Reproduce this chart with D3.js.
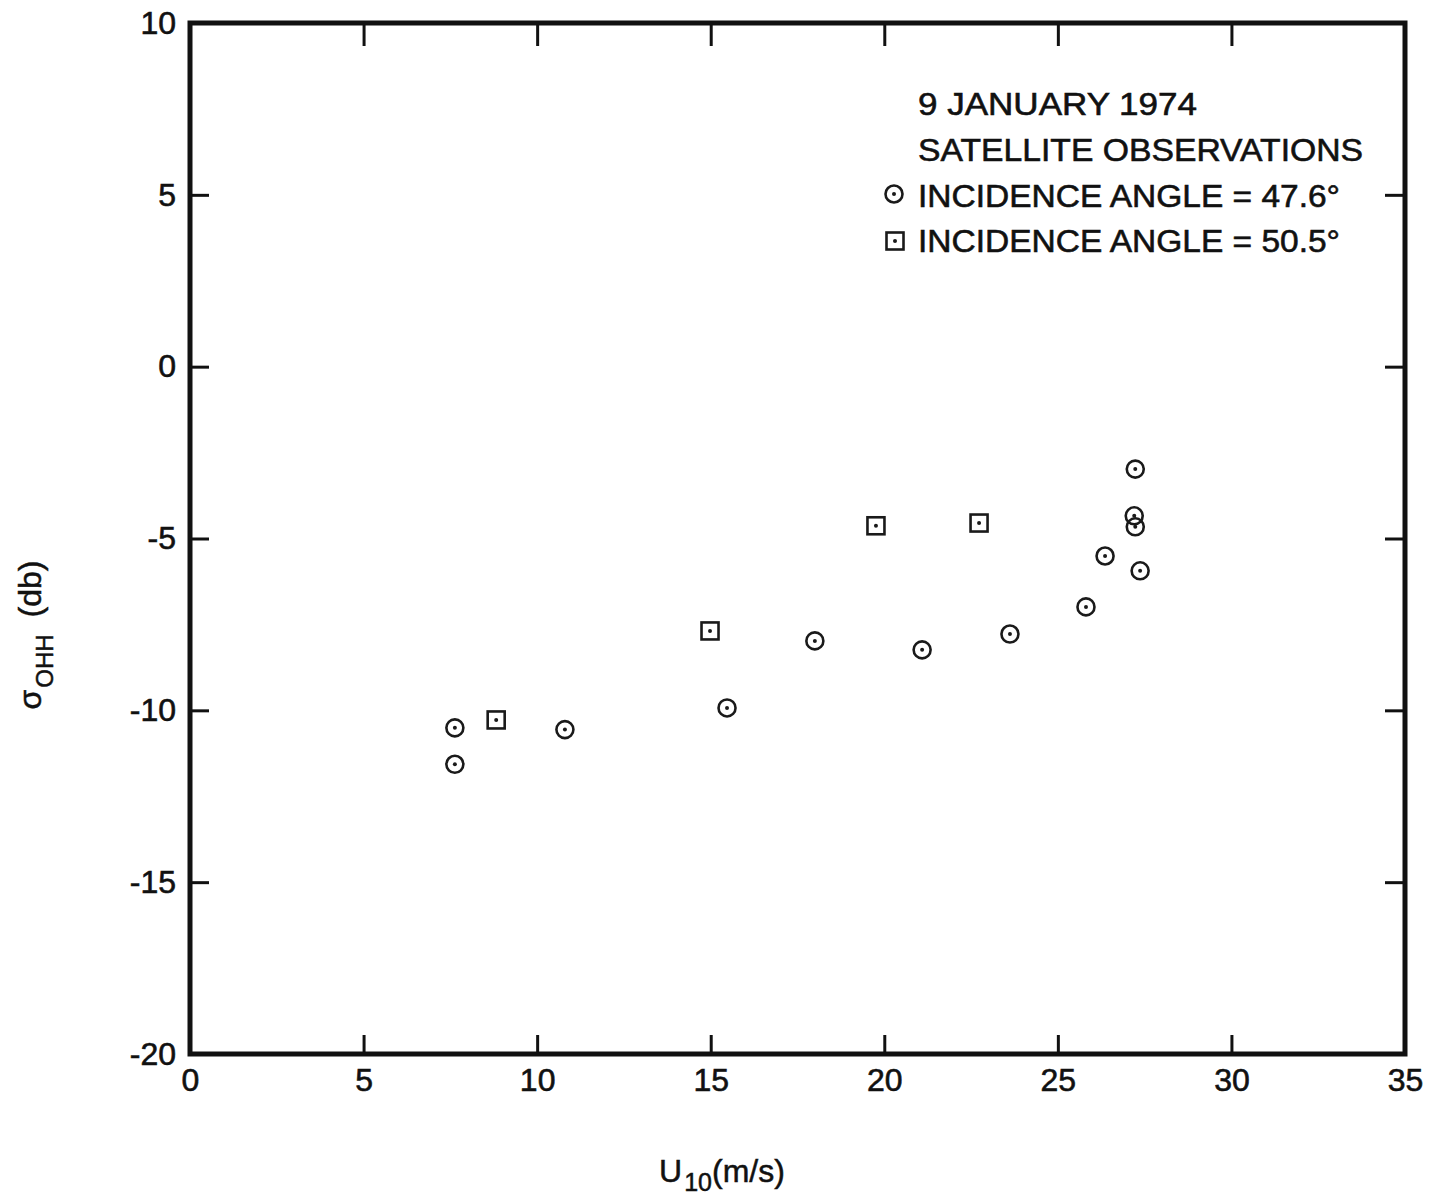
<!DOCTYPE html>
<html><head><meta charset="utf-8">
<script src="https://cdn.jsdelivr.net/npm/d3@7"></script>
<style>body{margin:0;background:#fff}svg{display:block}</style>
</head><body>
<script>
// Data
const circleU = [7.63, 7.63, 10.80, 15.47, 18.00, 21.09, 23.62, 25.81, 26.36, 27.23, 27.20, 27.23, 27.37];
const circleS = [-10.51, -11.57, -10.56, -9.93, -7.98, -8.24, -7.78, -6.99, -5.51, -2.98, -4.34, -4.66, -5.94];
const squareU = [8.82, 14.98, 19.76, 22.73];
const squareS = [-10.28, -7.69, -4.63, -4.55];
const xTicks = [0, 5, 10, 15, 20, 25, 30, 35];
const yTicks = [10, 5, 0, -5, -10, -15, -20];
const legendLines = ["9 JANUARY  1974", "SATELLITE OBSERVATIONS", "INCIDENCE ANGLE = 47.6°", "INCIDENCE ANGLE = 50.5°"];

const W = 1431, H = 1198;
const L = 190, R = 1405, T = 23, B = 1054;
const x = d3.scaleLinear().domain([0, 35]).range([L, R]);
const y = d3.scaleLinear().domain([-20, 10]).range([B, T]);
const FONT = "'Liberation Sans', Arial, sans-serif";
const INK = "#111";

const svg = d3.select("body").append("svg").attr("width", W).attr("height", H)
  .style("font-family", FONT);

const fmt = d => String(d);
// axes (inward ticks)
const styleAxis = g => {
  g.select(".domain").remove();
  g.selectAll(".tick line").attr("stroke", INK).attr("stroke-width", 3);
  g.selectAll(".tick text").attr("fill", INK).attr("stroke", INK).attr("stroke-width", 0.6)
    .style("font-size", "32px").style("font-family", FONT);
};
svg.append("g").attr("transform", `translate(0,${B})`)
  .call(d3.axisBottom(x).tickValues(xTicks).tickSizeInner(-19).tickSizeOuter(0).tickPadding(14).tickFormat(fmt))
  .call(styleAxis);
svg.append("g").attr("transform", `translate(0,${T})`)
  .call(d3.axisTop(x).tickValues(xTicks.slice(1, -1)).tickSizeInner(-23).tickSizeOuter(0).tickFormat(""))
  .call(styleAxis);
svg.append("g").attr("transform", `translate(${L},0)`)
  .call(d3.axisLeft(y).tickValues(yTicks).tickSizeInner(-19).tickSizeOuter(0).tickPadding(14).tickFormat(fmt))
  .call(styleAxis);
svg.append("g").attr("transform", `translate(${R},0)`)
  .call(d3.axisRight(y).tickValues(yTicks.slice(1, -1)).tickSizeInner(-20).tickSizeOuter(0).tickFormat(""))
  .call(styleAxis);

// frame
svg.append("rect").attr("x", x(0)).attr("y", y(10)).attr("width", x(35) - x(0)).attr("height", y(-20) - y(10))
  .attr("fill", "none").attr("stroke", INK).attr("stroke-width", 5);

// markers
const circ = (g, cx, cy) => {
  g.append("circle").attr("cx", cx).attr("cy", cy).attr("r", 8.5).attr("fill", "none").attr("stroke", "#1a1a1a").attr("stroke-width", 2.6);
  g.append("circle").attr("cx", cx).attr("cy", cy).attr("r", 2).attr("fill", "#1a1a1a");
};
const sq = (g, cx, cy) => {
  g.append("rect").attr("x", cx - 8.5).attr("y", cy - 8.5).attr("width", 17).attr("height", 17).attr("fill", "none").attr("stroke", "#1a1a1a").attr("stroke-width", 2.6);
  g.append("circle").attr("cx", cx).attr("cy", cy).attr("r", 2).attr("fill", "#1a1a1a");
};
const pts = svg.append("g");
circleU.forEach((u, i) => circ(pts, x(u), y(circleS[i])));
squareU.forEach((u, i) => sq(pts, x(u), y(squareS[i])));

// legend
const lg = svg.append("g");
const lgX = 918, lgY = [115, 161, 207, 252], lgW = [279, 445, 422, 422];
legendLines.forEach((t, i) => {
  lg.append("text").attr("x", lgX).attr("y", lgY[i]).text(t)
    .attr("textLength", lgW[i]).attr("lengthAdjust", "spacingAndGlyphs")
    .style("font-size", "32px").attr("fill", INK).attr("stroke", INK).attr("stroke-width", 0.6);
});
circ(lg, 894, 194);
sq(lg, 895, 241);

// y label
const yl = svg.append("text").attr("transform", "translate(41,635) rotate(-90)")
  .attr("text-anchor", "middle").style("font-size", "32px").attr("fill", INK).attr("stroke", INK).attr("stroke-width", 0.5);
yl.append("tspan").text("σ");
yl.append("tspan").text("OHH").attr("dy", 12).attr("dx", 2).style("font-size", "24px");
yl.append("tspan").text(" (db)").attr("dy", -12).attr("dx", 8);

// x label
const xl = svg.append("text").attr("x", 722).attr("y", 1182).attr("text-anchor", "middle")
  .style("font-size", "32px").attr("fill", INK).attr("stroke", INK).attr("stroke-width", 0.5);
xl.append("tspan").text("U");
xl.append("tspan").text("10").attr("dy", 9).style("font-size", "25px").attr("dx", 2);
xl.append("tspan").text("(m/s)").attr("dy", -9);
</script>
</body></html>
